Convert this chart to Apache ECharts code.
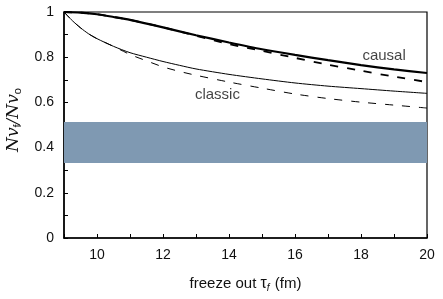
<!DOCTYPE html>
<html>
<head>
<meta charset="utf-8">
<script src="https://cdn.jsdelivr.net/npm/echarts@6/dist/echarts.min.js"></script>
<style>html,body{margin:0;padding:0;background:#fff}#c{width:443px;height:299px}</style>
</head>
<body>
<div id="c"></div>
<script>
// ---- data ----
var xCausal = [9, 9.5, 10, 10.5, 11, 12, 13, 14, 15, 16, 17, 18, 19, 20];
var causalSolid = [1.0, 0.997, 0.99, 0.978, 0.965, 0.932, 0.897, 0.865, 0.835, 0.81, 0.787, 0.765, 0.746, 0.73];
var causalDashed = [1.0, 0.997, 0.99, 0.978, 0.965, 0.932, 0.895, 0.858, 0.828, 0.797, 0.767, 0.74, 0.714, 0.69];
var xClassic = [9, 9.25, 9.5, 9.75, 10, 10.5, 11, 11.5, 12, 12.5, 13, 14, 15, 16, 17, 18, 19, 20];
var classicSolid = [1.0, 0.962, 0.93, 0.903, 0.882, 0.848, 0.82, 0.8, 0.781, 0.764, 0.748, 0.724, 0.704, 0.686, 0.672, 0.661, 0.65, 0.64];
var classicDashed = [1.0, 0.962, 0.93, 0.903, 0.882, 0.848, 0.812, 0.784, 0.757, 0.737, 0.72, 0.69, 0.663, 0.637, 0.617, 0.601, 0.588, 0.575];
var bandRange = [0.332, 0.513];
var xTickLabels = [10, 12, 14, 16, 18, 20];
var yTickLabels = [0, 0.2, 0.4, 0.6, 0.8, 1];
var annotations = [
  { text: 'causal', x: 18.7, y: 0.805 },
  { text: 'classic', x: 13.65, y: 0.633 }
];

function pairs(xs, ys) { return xs.map(function (x, i) { return [x, ys[i]]; }); }

var chart = echarts.init(document.getElementById('c'), null, { renderer: 'canvas' });
var font = 'Liberation Sans, Arial, sans-serif';
var option = {
  animation: false,
  backgroundColor: '#fff',
  grid: {
    left: 64, right: 16, top: 12, bottom: 61, containLabel: false, outerBoundsMode: 'none',
    show: true, borderColor: '#000', borderWidth: 1.2, backgroundColor: 'transparent'
  },
  xAxis: {
    type: 'value', min: 9, max: 20, interval: 1,
    axisLine: { show: true, lineStyle: { color: '#000', width: 1.5 } },
    axisTick: { show: true, inside: true, length: 4, lineStyle: { color: '#000', width: 1 } },
    splitLine: { show: false },
    axisLabel: {
      color: '#111', fontFamily: font, fontSize: 14, margin: 10,
      formatter: function (v) { return xTickLabels.indexOf(Math.round(v * 1000) / 1000) >= 0 ? String(v) : ''; }
    },
    name: '{t|freeze out }{g|τ}{s|f}{t| (fm)}',
    nameLocation: 'middle', nameGap: 36,
    nameTextStyle: {
      rich: {
        t: { fontFamily: font, fontSize: 15, color: '#111' },
        g: { fontFamily: font, fontSize: 16, color: '#111' },
        s: { fontFamily: font, fontSize: 10, fontStyle: 'italic', color: '#111', padding: [9, 1, 0, 0] }
      }
    }
  },
  yAxis: {
    type: 'value', min: 0, max: 1, interval: 0.1,
    axisLine: { show: true, lineStyle: { color: '#000', width: 1.5 } },
    axisTick: { show: true, inside: true, length: 4, lineStyle: { color: '#000', width: 1 } },
    splitLine: { show: false },
    axisLabel: {
      color: '#111', fontFamily: font, fontSize: 14, margin: 10,
      formatter: function (v) {
        var r = Math.round(v * 1000) / 1000;
        return yTickLabels.indexOf(r) >= 0 ? String(r) : '';
      }
    },
    name: '{n|N}{n|v}{s|f}{n|/}{n|N}{n|v}{s|o}',
    nameLocation: 'middle', nameGap: 38,
    nameTextStyle: {
      padding: [0, 0, 0, 10],
      rich: {
        n: { fontFamily: 'DejaVu Serif, serif', fontSize: 17, fontStyle: 'italic', color: '#111' },
        s: { fontFamily: font, fontSize: 11, color: '#111', padding: [9, 0, 0, 0] }
      }
    }
  },
  series: [
    {
      type: 'line', name: 'band', data: [], silent: true,
      markArea: {
        silent: true,
        itemStyle: { color: '#7f99b2', opacity: 1 },
        data: [[{ yAxis: bandRange[0] }, { yAxis: bandRange[1] }]]
      }
    },
    {
      type: 'line', name: 'causal', data: pairs(xCausal, causalSolid), smooth: 0.25, showSymbol: false,
      lineStyle: { color: '#000', width: 2.2 }
    },
    {
      type: 'line', name: 'causal dashed', data: pairs(xCausal, causalDashed), smooth: 0.25, showSymbol: false,
      lineStyle: { color: '#000', width: 1.8, type: [8, 9] }
    },
    {
      type: 'line', name: 'classic', data: pairs(xClassic, classicSolid), smooth: 0.25, showSymbol: false,
      lineStyle: { color: '#000', width: 1 }
    },
    {
      type: 'line', name: 'classic dashed', data: pairs(xClassic, classicDashed), smooth: 0.25, showSymbol: false,
      lineStyle: { color: '#000', width: 1, type: [8, 9] }
    },
    {
      type: 'scatter', name: 'labels', symbolSize: 0, silent: true,
      data: annotations.map(function (a) { return { value: [a.x, a.y], name: a.text }; }),
      label: {
        show: true, position: 'inside', formatter: '{b}',
        fontFamily: font, fontSize: 15, color: '#111'
      }
    }
  ]
};
chart.setOption(option);
</script>
</body>
</html>
